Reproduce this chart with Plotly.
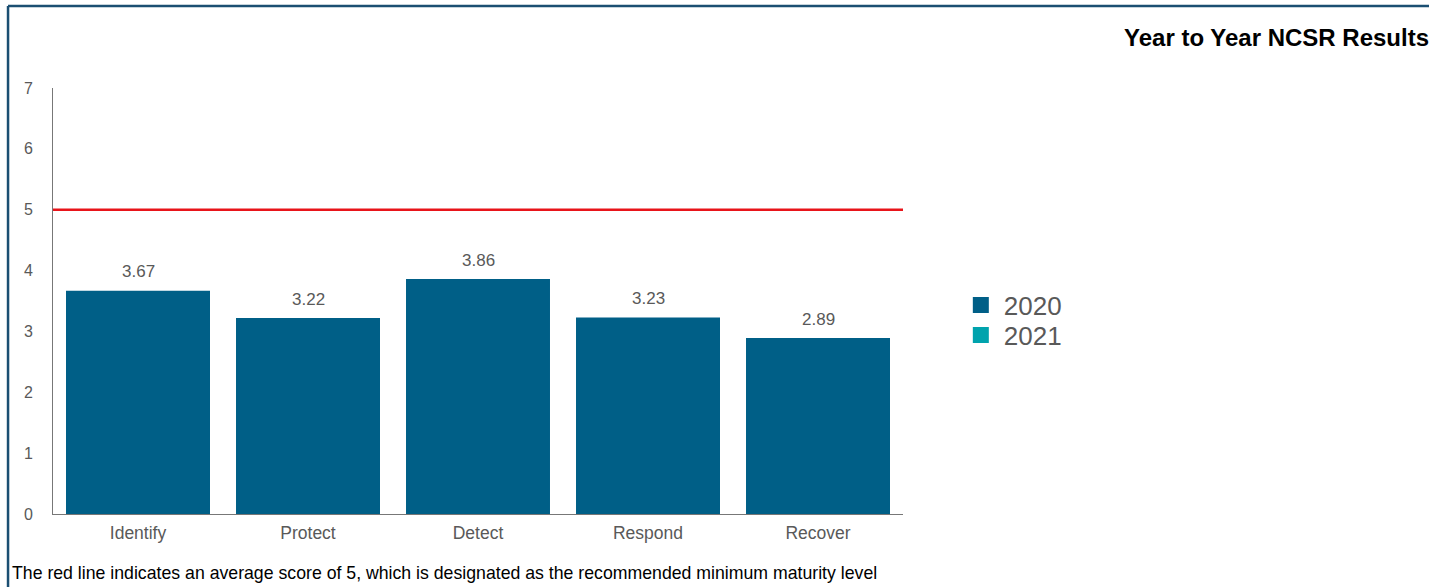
import plotly.graph_objects as go

categories = ["Identify", "Protect", "Detect", "Respond", "Recover"]
scores_2020 = [3.67, 3.22, 3.86, 3.23, 2.89]
scores_2021 = [None, None, None, None, None]
target_score = 5
y_ticks = [0, 1, 2, 3, 4, 5, 6, 7]
title_text = "Year to Year NCSR Results"
footer_text = ("The red line indicates an average score of 5, which is designated "
               "as the recommended minimum maturity level")

C2020 = "#005f87"
C2021 = "#00a3ad"
GRAY = "#595959"
FONT = "Liberation Sans, Arial, sans-serif"

fig = go.Figure()
fig.add_trace(go.Bar(x=categories, y=scores_2020, name="2020", marker_color=C2020,
                     marker_line_width=0, showlegend=False, hoverinfo="x+y"))
fig.add_trace(go.Bar(x=categories, y=scores_2021, name="2021", marker_color=C2021,
                     marker_line_width=0, showlegend=False))
# legend entries
fig.add_trace(go.Scatter(x=[None], y=[None], mode="markers", name="2020", legend="legend",
                         marker=dict(symbol="square", size=18, color=C2020)))
fig.add_trace(go.Scatter(x=[None], y=[None], mode="markers", name="2021", legend="legend2",
                         marker=dict(symbol="square", size=18, color=C2021)))

# value labels
for c, v in zip(categories, scores_2020):
    fig.add_annotation(x=c, y=v, text=f"{v:.2f}", showarrow=False, yanchor="middle",
                       yshift=19, font=dict(size=17, color=GRAY, family=FONT))

# red reference line
fig.add_shape(type="line", xref="paper", yref="y", x0=0, x1=1, y0=target_score,
              y1=target_score, line=dict(color="#e8141a", width=2.5))

# border lines (top and left)
fig.add_shape(type="line", xref="paper", yref="paper", x0=-0.0529, x1=1.62,
              y0=1.1925, y1=1.1925, line=dict(color="#1b4f72", width=2.5))
fig.add_shape(type="line", xref="paper", yref="paper", x0=-0.0529, x1=-0.0529,
              y0=1.1925, y1=-0.18, line=dict(color="#1b4f72", width=2.5))

fig.add_annotation(xref="paper", yref="paper", x=1.621, y=1.1197, xanchor="right",
                   yanchor="middle", text=f"<b>{title_text}</b>", showarrow=False,
                   font=dict(size=24, color="#000000", family=FONT))
fig.add_annotation(xref="paper", yref="paper", x=-0.0505, y=-0.1385, xanchor="left",
                   yanchor="middle", text=footer_text, showarrow=False,
                   font=dict(size=17.7, color="#000000", family=FONT))

legend_common = dict(x=1.0645, xanchor="left", yanchor="middle",
                     font=dict(size=26, color=GRAY, family=FONT),
                     itemsizing="trace", itemwidth=36, bgcolor="rgba(0,0,0,0)")
fig.update_layout(
    width=1429, height=587,
    margin=dict(l=53, r=526, t=88, b=73),
    paper_bgcolor="white", plot_bgcolor="white",
    barmode="overlay", bargap=0.153,
    font=dict(family=FONT, color=GRAY),
    showlegend=True,
    legend=dict(y=0.4906, **legend_common),
    legend2=dict(y=0.4202, **legend_common),
)
fig.update_xaxes(range=[-0.5, 4.5], showline=True, linecolor="#777777", linewidth=1,
                 showgrid=False, ticks="", tickfont=dict(size=17.5, color=GRAY),
                 ticklabelstandoff=3)
fig.update_yaxes(range=[0, 7], tickvals=y_ticks, showline=True, linecolor="#777777",
                 linewidth=1, showgrid=False, zeroline=False, ticks="",
                 tickfont=dict(size=16, color=GRAY), ticklabelstandoff=16)

fig.write_html("out.html", config={"displayModeBar": False},
               post_script="document.body.style.margin='0px';document.body.style.overflow='hidden';")
